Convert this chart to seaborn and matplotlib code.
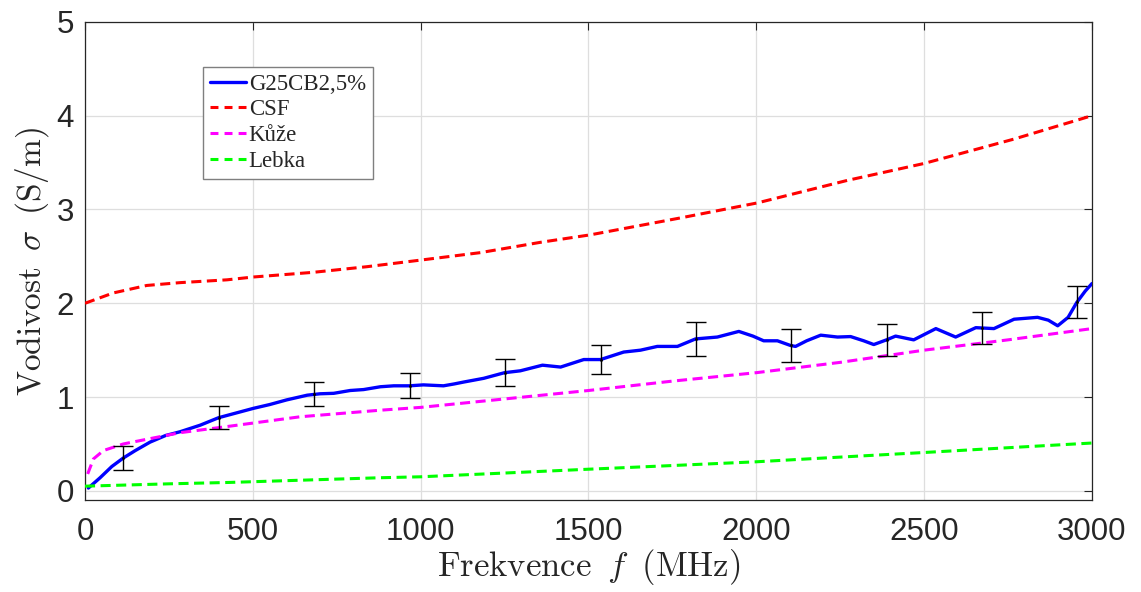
import numpy as np
import pandas as pd
import matplotlib
matplotlib.use("Agg")
import matplotlib.pyplot as plt
import seaborn as sns

# --- data -------------------------------------------------------------
blue_f = [10, 45, 80, 114, 150, 194, 240, 283, 343, 398, 450, 502, 550, 601, 662,
          700, 741, 790, 830, 880, 920, 967, 1008, 1068, 1100, 1128, 1188, 1250,
          1297, 1363, 1417, 1486, 1536, 1605, 1655, 1705, 1765, 1819, 1884, 1948,
          1990, 2022, 2063, 2102, 2117, 2150, 2192, 2242, 2281, 2320, 2350, 2388,
          2415, 2469, 2535, 2594, 2654, 2708, 2768, 2838, 2870, 2898, 2929, 2955,
          2980, 3000]
blue_v = [0.03, 0.14, 0.26, 0.35, 0.43, 0.52, 0.59, 0.63, 0.70, 0.78, 0.83, 0.88,
          0.92, 0.97, 1.02, 1.035, 1.04, 1.07, 1.08, 1.11, 1.12, 1.12, 1.13, 1.12,
          1.14, 1.16, 1.20, 1.26, 1.28, 1.34, 1.32, 1.40, 1.40, 1.48, 1.50, 1.54,
          1.54, 1.62, 1.64, 1.70, 1.65, 1.60, 1.60, 1.55, 1.54, 1.60, 1.66, 1.64,
          1.645, 1.60, 1.56, 1.61, 1.65, 1.61, 1.73, 1.64, 1.74, 1.73, 1.83, 1.85,
          1.82, 1.76, 1.85, 2.01, 2.13, 2.21]

csf_f = [0, 84, 184, 283, 423, 501, 680, 840, 999, 1178, 1357, 1506, 1774, 2003,
         2271, 2499, 2767, 3000]
csf_v = [2.0, 2.11, 2.19, 2.22, 2.25, 2.28, 2.33, 2.39, 2.46, 2.54, 2.65, 2.73,
         2.91, 3.07, 3.31, 3.49, 3.75, 4.0]

kuze_f = [8, 25, 55, 114, 184, 283, 432, 641, 880, 1000, 1250, 1500, 1750, 2000,
          2250, 2500, 2750, 3000]
kuze_v = [0.18, 0.34, 0.43, 0.50, 0.55, 0.62, 0.69, 0.79, 0.86, 0.89, 0.98, 1.07,
          1.17, 1.26, 1.37, 1.50, 1.61, 1.73]

lebka_f = [0, 250, 432, 880, 1000, 1250, 1495, 1750, 2000, 2250, 2505, 2750, 3000]
lebka_v = [0.05, 0.075, 0.09, 0.14, 0.15, 0.19, 0.23, 0.27, 0.31, 0.36, 0.41, 0.46, 0.51]

err_f = [114, 398, 681, 967, 1250, 1536, 1819, 2102, 2388, 2672, 2955]
err_v = [0.35, 0.78, 1.03, 1.12, 1.26, 1.40, 1.62, 1.55, 1.61, 1.74, 2.01]
err_e = [0.13, 0.125, 0.13, 0.135, 0.145, 0.155, 0.18, 0.18, 0.17, 0.17, 0.17]

labels = ["G25CB2,5%", "CSF", "Kůže", "Lebka"]
x_ticks = [0, 500, 1000, 1500, 2000, 2500, 3000]
y_ticks = [0, 1, 2, 3, 4, 5]

# --- style ------------------------------------------------------------
sns.set_style("white")
plt.rcParams["mathtext.fontset"] = "cm"
plt.rcParams["font.family"] = ["Liberation Sans", "DejaVu Sans"]

fig = plt.figure(figsize=(11.41, 5.92), dpi=100)
ax = fig.add_axes([0.0745, 0.155, 0.8825, 0.808])

ax.grid(True, color="#dedede", linewidth=0.9, zorder=0)

LW = 2.2
DASH = [3.3, 1.8]
sns.lineplot(x=blue_f, y=blue_v, ax=ax, color=(0, 0, 1), linewidth=2.4,
             label=labels[0], zorder=3)
sns.lineplot(x=csf_f, y=csf_v, ax=ax, color=(1, 0, 0), linewidth=LW,
             label=labels[1], zorder=3)
sns.lineplot(x=kuze_f, y=kuze_v, ax=ax, color=(1, 0, 1), linewidth=LW,
             label=labels[2], zorder=3)
sns.lineplot(x=lebka_f, y=lebka_v, ax=ax, color=(0, 1, 0), linewidth=LW,
             label=labels[3], zorder=3)
for ln in ax.get_lines()[1:4]:
    ln.set_dashes(DASH)

ax.errorbar(err_f, err_v, yerr=err_e, fmt=".", color="black", markersize=2,
            elinewidth=1.0, capsize=7.5, capthick=1.0, zorder=4)

ax.set_xlim(0, 3000)
ax.set_ylim(-0.1, 5)
ax.set_xticks(x_ticks)
ax.set_yticks(y_ticks)
ax.tick_params(direction="in", length=6, width=0.8, colors="#262626",
               labelsize=22.5, top=True, right=True, labeltop=False, labelright=False)
ax.tick_params(axis="x", pad=12)
ax.tick_params(axis="y", pad=8)
for s in ax.spines.values():
    s.set_visible(True)
    s.set_color("#262626")
    s.set_linewidth(0.9)

ax.set_xlabel(r"$\mathrm{Frekvence}\;\;f\;\;\mathrm{(MHz)}$", fontsize=25, color="#262626", labelpad=0)
ax.set_ylabel(r"$\mathrm{Vodivost}\;\;\sigma\;\;\mathrm{(S/m)}$", fontsize=24, color="#262626", labelpad=4)

leg = ax.legend(loc="upper left", bbox_to_anchor=(0.117, 0.906),
                prop={"family": "Liberation Serif", "size": 16.5},
                frameon=True, fancybox=False, framealpha=1, edgecolor="#7f7f7f",
                handlelength=1.6, handletextpad=0.1, labelspacing=0.2,
                borderpad=0.3, borderaxespad=0)
leg.get_frame().set_linewidth(1.0)
for h in leg.get_lines()[1:]:
    h.set_dashes([2.6, 2.0])

fig.savefig("out.png", dpi=100)
